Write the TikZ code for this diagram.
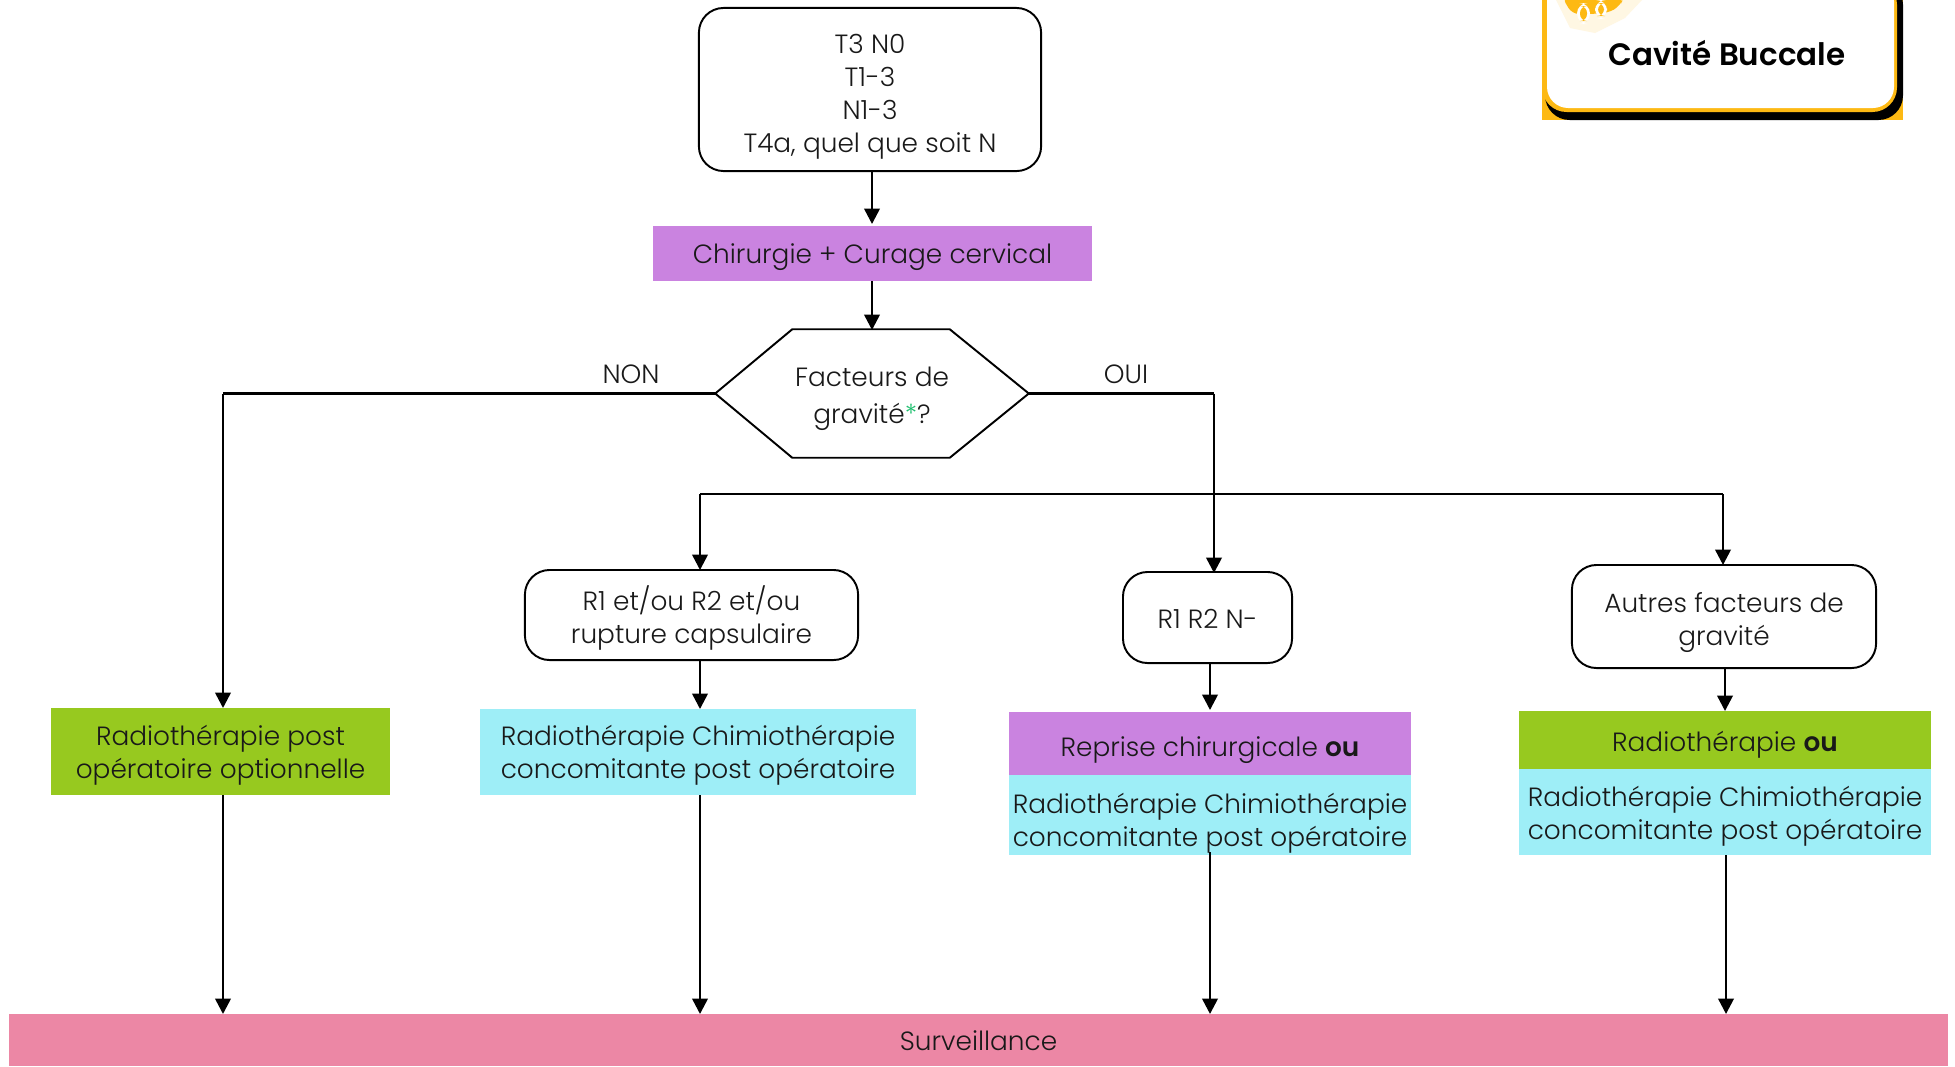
\documentclass[tikz,border=0pt]{standalone}
\usepackage{fontspec}
\usepackage{tikz}
\usetikzlibrary{arrows.meta}
\setmainfont{Poppins}[UprightFont=* Light,BoldFont=* SemiBold]
\definecolor{mauve}{HTML}{CA83E0}
\definecolor{cyanbox}{HTML}{9EEEF7}
\definecolor{greenbox}{HTML}{97C91F}
\definecolor{pinkbox}{HTML}{EC87A5}
\definecolor{gold}{HTML}{FDB913}
\definecolor{stargreen}{HTML}{1FBF6F}
\tikzset{
  lab/.style={font=\fontsize{7.5}{9.3}\selectfont,align=center,text=black!90},
  drop/.style={text height=#1},
  flat/.style={lab,inner sep=0pt,anchor=center},
  roundbox/.style={lab,draw,line width=.55pt,rounded corners=7pt,inner sep=0pt,anchor=center},
  link/.style={line width=.72pt},
  arrow/.style={link,-{Triangle[width=4.4pt,length=4.4pt]}},
}
\begin{document}
\begin{tikzpicture}[x=.01cm,y=-.01cm]
\useasboundingbox (0,0) rectangle (1955,1066);
% title
\fill[gold] (1542,0) rectangle (1903,120);
\fill[black,rounded corners=7pt] (1545,-20) rectangle (1903,120);
\fill[gold,rounded corners=7pt] (1542,-20) rectangle (1897,112);
\fill[white,rounded corners=6pt] (1547,-20) rectangle (1894,108);
\fill[gold!12] (1556,0) -- (1642,0) -- (1625,18) -- (1595,33) -- (1570,28) -- cycle;
\fill[gold,rounded corners=2pt] (1562,-3) -- (1624,-3) -- (1620,6) -- (1608,13) -- (1590,14) -- (1572,14) -- cycle;
\fill[white,rounded corners=3pt] (1577,3) rectangle (1590,24);
\fill[white,rounded corners=3pt] (1595,0) rectangle (1607,19);
\fill[gold,rounded corners=2pt] (1580,6) rectangle (1587,21);
\fill[gold,rounded corners=2pt] (1598,3) rectangle (1604,16);
\node[font=\fontsize{8.8}{11}\selectfont\bfseries] (title) at (1727,53) {Cavité Buccale};
% boxes
\node[roundbox,drop=37.5pt,minimum width=3.42cm,minimum height=1.63cm] (start) at (870,89.5) {T3 N0\\T1-3\\N1-3\\T4a, quel que soit N};
\node[flat,drop=7.7pt,fill=mauve,minimum width=4.39cm,minimum height=.55cm] (chir) at (872.5,253.5) {Chirurgie + Curage cervical};
\node[lab,drop=19pt,minimum width=3.12cm,minimum height=1.27cm,inner sep=0pt] (facteurs) at (872,393.5) {Facteurs de\\[1.2pt]gravité{\color{stargreen}*}?};
\draw[line width=.55pt] (facteurs.west)--([xshift=.77cm]facteurs.north west)--([xshift=-.79cm]facteurs.north east)--(facteurs.east)--([xshift=-.79cm]facteurs.south east)--([xshift=.77cm]facteurs.south west)--cycle;
\node[lab] (non) at (631,374) {NON};
\node[lab] (oui) at (1126,374) {OUI};
\node[roundbox,drop=18pt,minimum width=3.33cm,minimum height=.9cm] (rone) at (691.5,615) {R1 et/ou R2 et/ou\\rupture capsulaire};
\node[roundbox,drop=6.3pt,minimum width=1.69cm,minimum height=.91cm] (rtwo) at (1207.5,617.5) {R1 R2 N-};
\node[roundbox,drop=18.4pt,minimum width=3.04cm,minimum height=1.03cm] (autres) at (1724,616.5) {Autres facteurs de\\gravité};
\node[flat,drop=17.3pt,fill=greenbox,minimum width=3.39cm,minimum height=.87cm] (rtopt) at (220.5,751.5) {Radiothérapie post\\opératoire optionnelle};
\node[flat,drop=16.9pt,fill=cyanbox,minimum width=4.36cm,minimum height=.86cm] (rcone) at (698,752) {Radiothérapie Chimiothérapie\\concomitante post opératoire};
\node[flat,drop=9.2pt,fill=mauve,minimum width=4.02cm,minimum height=.63cm] (reprise) at (1210,743.5) {Reprise chirurgicale {\bfseries ou}};
\node[flat,drop=19.8pt,fill=cyanbox,minimum width=4.02cm,minimum height=.8cm] (rctwo) at (1210,815) {Radiothérapie Chimiothérapie\\concomitante post opératoire};
\node[flat,drop=8.4pt,fill=greenbox,minimum width=4.12cm,minimum height=.585cm] (rtou) at (1725,739.75) {Radiothérapie {\bfseries ou}};
\node[flat,drop=17.6pt,fill=cyanbox,minimum width=4.12cm,minimum height=.86cm] (rcthree) at (1725,812) {Radiothérapie Chimiothérapie\\concomitante post opératoire};
\node[flat,drop=6.3pt,fill=pinkbox,minimum width=19.37cm,minimum height=.52cm] (surv) at (978.5,1040) {Surveillance};
% free ends of the bar
\coordinate (barl) at (700,494);
\coordinate (barr) at (1723,494);
\coordinate (nonc) at (223,393.5);
\coordinate (ouic) at (1214,393.5);
% connectors
\draw[arrow] (872,171)--(872,224);
\draw[arrow] (872,281)--(872,330);
\draw[link] (facteurs.west)--(nonc);
\draw[arrow] (nonc)--(223,708);
\draw[link] (facteurs.east)--(ouic);
\draw[arrow] (ouic)--(1214,573);
\draw[link] (barl)--(barr);
\draw[arrow] (barl)--(700,570);
\draw[arrow] (barr)--(1723,565);
\draw[arrow] (700,660)--(700,709);
\draw[arrow] (1210,663)--(1210,710);
\draw[arrow] (1725,668)--(1725,711);
\draw[arrow] (223,795)--(223,1014);
\draw[arrow] (700,795)--(700,1014);
\draw[arrow] (1210,852)--(1210,1014);
\draw[arrow] (1726,855)--(1726,1014);
\end{tikzpicture}
\end{document}
